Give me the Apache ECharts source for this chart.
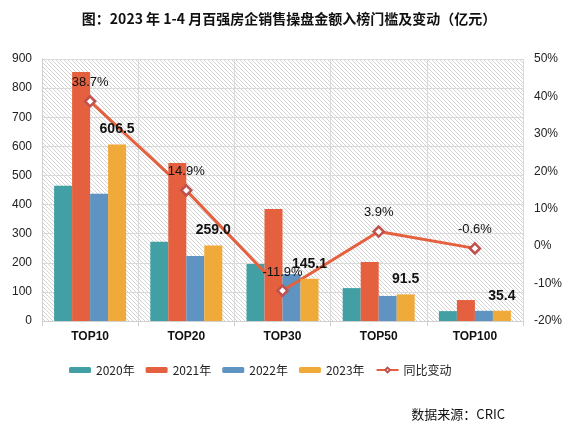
<!DOCTYPE html>
<html><head><meta charset="utf-8">
<script src="https://cdn.jsdelivr.net/npm/echarts@6/dist/echarts.min.js"></script>
<style>html,body{margin:0;padding:0;background:#fff}#c{width:578px;height:426px}</style>
</head><body><div id="c"></div>
<script>
const categories = ['TOP10','TOP20','TOP30','TOP50','TOP100'];
const v2020 = [465, 272, 196, 113, 34];
const v2021 = [855, 543, 385, 203, 72];
const v2022 = [437, 223, 161, 86, 35];
const v2023 = [606.5, 259.0, 145.1, 91.5, 35.4];
const yoy = [38.7, 14.9, -11.9, 3.9, -0.6];
const leftTicks = [0, 900, 100];
const rightTicks = [-20, 50, 10];

const pc = document.createElement('canvas');
pc.width = 4; pc.height = 4;
const g = pc.getContext('2d');
g.fillStyle = '#ffffff'; g.fillRect(0,0,4,4);
g.strokeStyle = '#d4d4d4'; g.lineWidth = 1;
g.beginPath();
g.moveTo(-1,-1); g.lineTo(5,5);
g.moveTo(-1,3); g.lineTo(1,5);
g.moveTo(3,-1); g.lineTo(5,1);
g.stroke();

const chart = echarts.init(document.getElementById('c'));
const font = 'Liberation Sans, Arial, sans-serif';
chart.setOption({
  animation: false,
  backgroundColor: '#fff',
  title: [{
    text: '图：2023 年 1-4 月百强房企销售操盘金额入榜门槛及变动（亿元）',
    left: 'center', top: 7,
    textStyle: {fontSize: 14, fontWeight: 'bold', color: '#111', fontFamily: 'Noto Sans CJK SC'}
  },{
    text: '数据来源：CRIC',
    right: 68, top: 403,
    textStyle: {fontSize: 13, fontWeight: 'normal', color: '#111', fontFamily: 'Noto Sans CJK SC'}
  }],
  legend: {
    left: 64, top: 359, itemWidth: 22, itemHeight: 6, itemGap: 11,
    textStyle: {fontSize: 12, color: '#222', fontFamily: 'Noto Sans CJK SC'},
    data: ['2020年','2021年','2022年','2023年',{name:'同比变动'}]
  },
  grid: {left: 42, right: 55, top: 59, bottom: 105, show: true, borderWidth: 0,
    backgroundColor: {image: pc, repeat: 'repeat'}},
  xAxis: {
    type: 'category', data: categories,
    axisLine: {lineStyle: {color: '#d0d0d0'}},
    axisTick: {show: true, length: 5, lineStyle: {color: '#d0d0d0'}},
    splitLine: {show: true, lineStyle: {color: '#d9d9d9'}},
    axisLabel: {fontSize: 12, fontWeight: 'bold', color: '#111', margin: 10, fontFamily: font}
  },
  yAxis: [{
    type: 'value', min: leftTicks[0], max: leftTicks[1], interval: leftTicks[2],
    axisLine: {show: true, lineStyle: {color: '#d0d0d0'}},
    axisLabel: {fontSize: 12, color: '#222', margin: 10, fontFamily: font},
    splitLine: {lineStyle: {color: '#d9d9d9'}}
  },{
    type: 'value', min: rightTicks[0], max: rightTicks[1], interval: rightTicks[2],
    axisLine: {show: false},
    axisLabel: {fontSize: 12, color: '#222', margin: 11, formatter: '{value}%', fontFamily: font},
    splitLine: {show: false}
  }],
  series: [
    {name:'2020年', type:'bar', data:v2020, barWidth:18, barGap:'0%', itemStyle:{color:'#42A0A5'}, z:2},
    {name:'2021年', type:'bar', data:v2021, barWidth:18, barGap:'0%', itemStyle:{color:'#E4603E'}, z:2},
    {name:'2022年', type:'bar', data:v2022, barWidth:18, barGap:'0%', itemStyle:{color:'#5E93C2'}, z:2},
    {name:'2023年', type:'bar', data:v2023, barWidth:18, barGap:'0%', itemStyle:{color:'#F0AA3A'}, z:4,
      label:{show:true, position:'top', distance:8, fontSize:14, fontWeight:'bold', color:'#111',
        fontFamily:font, formatter:p=>p.value.toFixed(1)}},
    {name:'同比变动', type:'line', yAxisIndex:1, data:yoy, symbol:'diamond', symbolSize:10,
      lineStyle:{color:'#E5603E', width:3},
      itemStyle:{color:'#fff', borderColor:'#C0504D', borderWidth:2.5},
      label:{show:true, position:'top', distance:6, fontSize:13, color:'#111', fontFamily:font,
        formatter:p=>p.value.toFixed(1)+'%'}, z:3}
  ]
});
</script></body></html>
